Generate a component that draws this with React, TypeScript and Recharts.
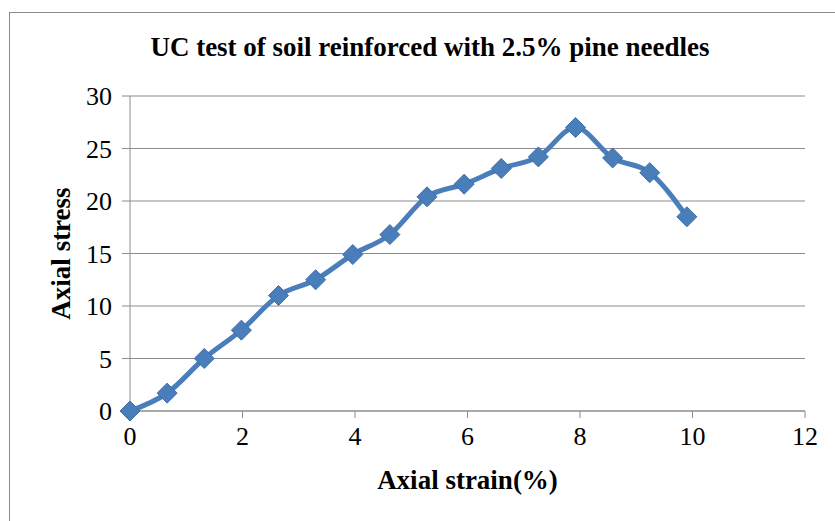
import React from 'react';
import { LineChart, Line, XAxis, YAxis, CartesianGrid } from 'recharts';

const strain = [0, 0.66, 1.32, 1.98, 2.64, 3.3, 3.96, 4.62, 5.28, 5.94, 6.6, 7.26, 7.92, 8.58, 9.24, 9.9];
const stress = [0, 1.7, 5.0, 7.7, 11.0, 12.5, 14.9, 16.8, 20.4, 21.6, 23.1, 24.2, 27.0, 24.1, 22.7, 18.5];
const xTicks = [0, 2, 4, 6, 8, 10, 12];
const yTicks = [0, 5, 10, 15, 20, 25, 30];

const data = strain.map((s, i) => ({ strain: s, stress: stress[i] }));

const FONT = '"Liberation Serif", "Times New Roman", serif';
const BLUE = '#4a7ebb';
const GRID = '#8c8c8c';

const Diamond = (props: any) => {
  const { cx, cy } = props;
  if (cx == null || cy == null) return null;
  const r = 10;
  return (
    <polygon
      points={`${cx},${cy - r} ${cx + r},${cy} ${cx},${cy + r} ${cx - r},${cy}`}
      fill={BLUE}
      stroke="#3f6fa8"
      strokeWidth={1}
    />
  );
};

const App: React.FC = () => {
  return (
    <div style={{ position: 'absolute', left: 0, top: 0, width: 835, height: 521, background: '#fff', overflow: 'hidden' }}>
      {/* chart frame */}
      <div style={{ position: 'absolute', left: 9, top: 12, width: 840, height: 520, border: '1.5px solid #8a8a8a' }} />
      <div
        style={{
          position: 'absolute', left: 0, top: 32, width: 860, textAlign: 'center',
          fontFamily: FONT, fontWeight: 'bold', fontSize: 27, color: '#000', lineHeight: 'normal',
        }}
      >
        UC test of soil reinforced with 2.5% pine needles
      </div>
      <div style={{ position: 'absolute', left: 0, top: 0 }}>
        <LineChart width={835} height={521} data={data} margin={{ top: 96, right: 30, bottom: 30, left: 70 }}>
          <CartesianGrid vertical={false} stroke={GRID} strokeWidth={1.2} />
          <XAxis
            dataKey="strain"
            type="number"
            domain={[0, 12]}
            ticks={xTicks}
            height={80}
            stroke={GRID}
            tickSize={7}
            tickMargin={9}
            tick={{ fill: '#000', fontSize: 26, fontFamily: FONT }}
            label={{ value: 'Axial strain(%)', position: 'insideBottom', offset: 2, fill: '#000', fontSize: 27, fontWeight: 'bold', fontFamily: FONT }}
          />
          <YAxis
            type="number"
            domain={[0, 30]}
            ticks={yTicks}
            width={60}
            stroke={GRID}
            tickSize={8}
            tickMargin={10}
            tick={{ fill: '#000', fontSize: 26, fontFamily: FONT }}
            label={{ value: 'Axial stress', angle: -90, position: 'insideLeft', offset: -10, fill: '#000', fontSize: 27, fontWeight: 'bold', fontFamily: FONT, style: { textAnchor: 'middle' } }}
          />
          <Line
            type="monotone"
            dataKey="stress"
            stroke={BLUE}
            strokeWidth={5}
            dot={<Diamond />}
            activeDot={false}
            isAnimationActive={false}
          />
        </LineChart>
      </div>
    </div>
  );
};

export default App;
